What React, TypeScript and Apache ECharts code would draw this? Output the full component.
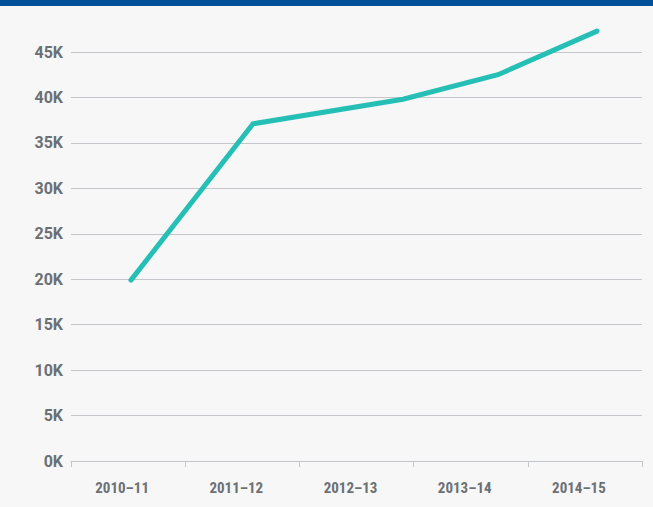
import React, { useEffect, useRef } from "react";
import * as echarts from "echarts";

const categories = ["2010–11", "2011–12", "2012–13", "2013–14", "2014–15"];
// positions along the x span (0..5 category widths) and values
const pointX = [0.525, 1.594, 2.907, 3.739, 4.606];
const pointY = [19900, 37100, 39800, 42500, 47300];
const yTicks = [0, 5000, 10000, 15000, 20000, 25000, 30000, 35000, 40000, 45000];

const NARROW = "'Liberation Sans Narrow', 'Roboto Condensed', Roboto, sans-serif";
const WIDE = "Roboto, 'Liberation Sans', sans-serif";
const LABEL_COLOR = "#6b7075";
const GRID_COLOR = "#c3c6ca";

export default function App() {
  const ref = useRef<HTMLDivElement>(null);
  useEffect(() => {
    document.body.style.margin = "0";
    const chart = echarts.init(ref.current!, null, { renderer: "svg" });
    chart.setOption({
      animation: false,
      backgroundColor: "#f7f7f7",
      graphic: [
        { type: "rect", left: 0, top: 0, shape: { width: 653, height: 6 }, style: { fill: "#00519a" } },
      ],
      grid: { left: 71, right: 11, top: 52, bottom: 46 },
      xAxis: [
        {
          type: "category",
          data: categories,
          boundaryGap: true,
          axisLine: { show: true, lineStyle: { color: GRID_COLOR, width: 1 } },
          axisTick: { show: true, length: 6, lineStyle: { color: GRID_COLOR } },
          axisLabel: {
            color: LABEL_COLOR,
            fontFamily: NARROW,
            fontWeight: "bold",
            fontSize: 15,
            margin: 19,
            padding: [0, 12, 0, 0],
          },
        },
        {
          type: "value",
          min: 0,
          max: 5,
          show: false,
          position: "bottom",
          splitLine: { show: false },
        },
      ],
      yAxis: {
        type: "value",
        min: 0,
        max: yTicks[yTicks.length - 1],
        interval: 5000,
        axisLine: { show: false },
        axisTick: { show: false },
        axisLabel: {
          color: LABEL_COLOR,
          fontFamily: WIDE,
          fontWeight: "bold",
          fontSize: 16,
          margin: 8,
          formatter: (v: number) => `${v / 1000}K`,
        },
        splitLine: { lineStyle: { color: GRID_COLOR, width: 1 } },
      },
      series: [
        {
          type: "line",
          xAxisIndex: 1,
          data: pointX.map((x, i) => [x, pointY[i]]),
          showSymbol: false,
          clip: false,
          lineStyle: { color: "#26bfb6", width: 5, cap: "round", join: "miter" },
        },
      ],
    });
    return () => chart.dispose();
  }, []);
  return <div ref={ref} style={{ width: 653, height: 507 }} />;
}
